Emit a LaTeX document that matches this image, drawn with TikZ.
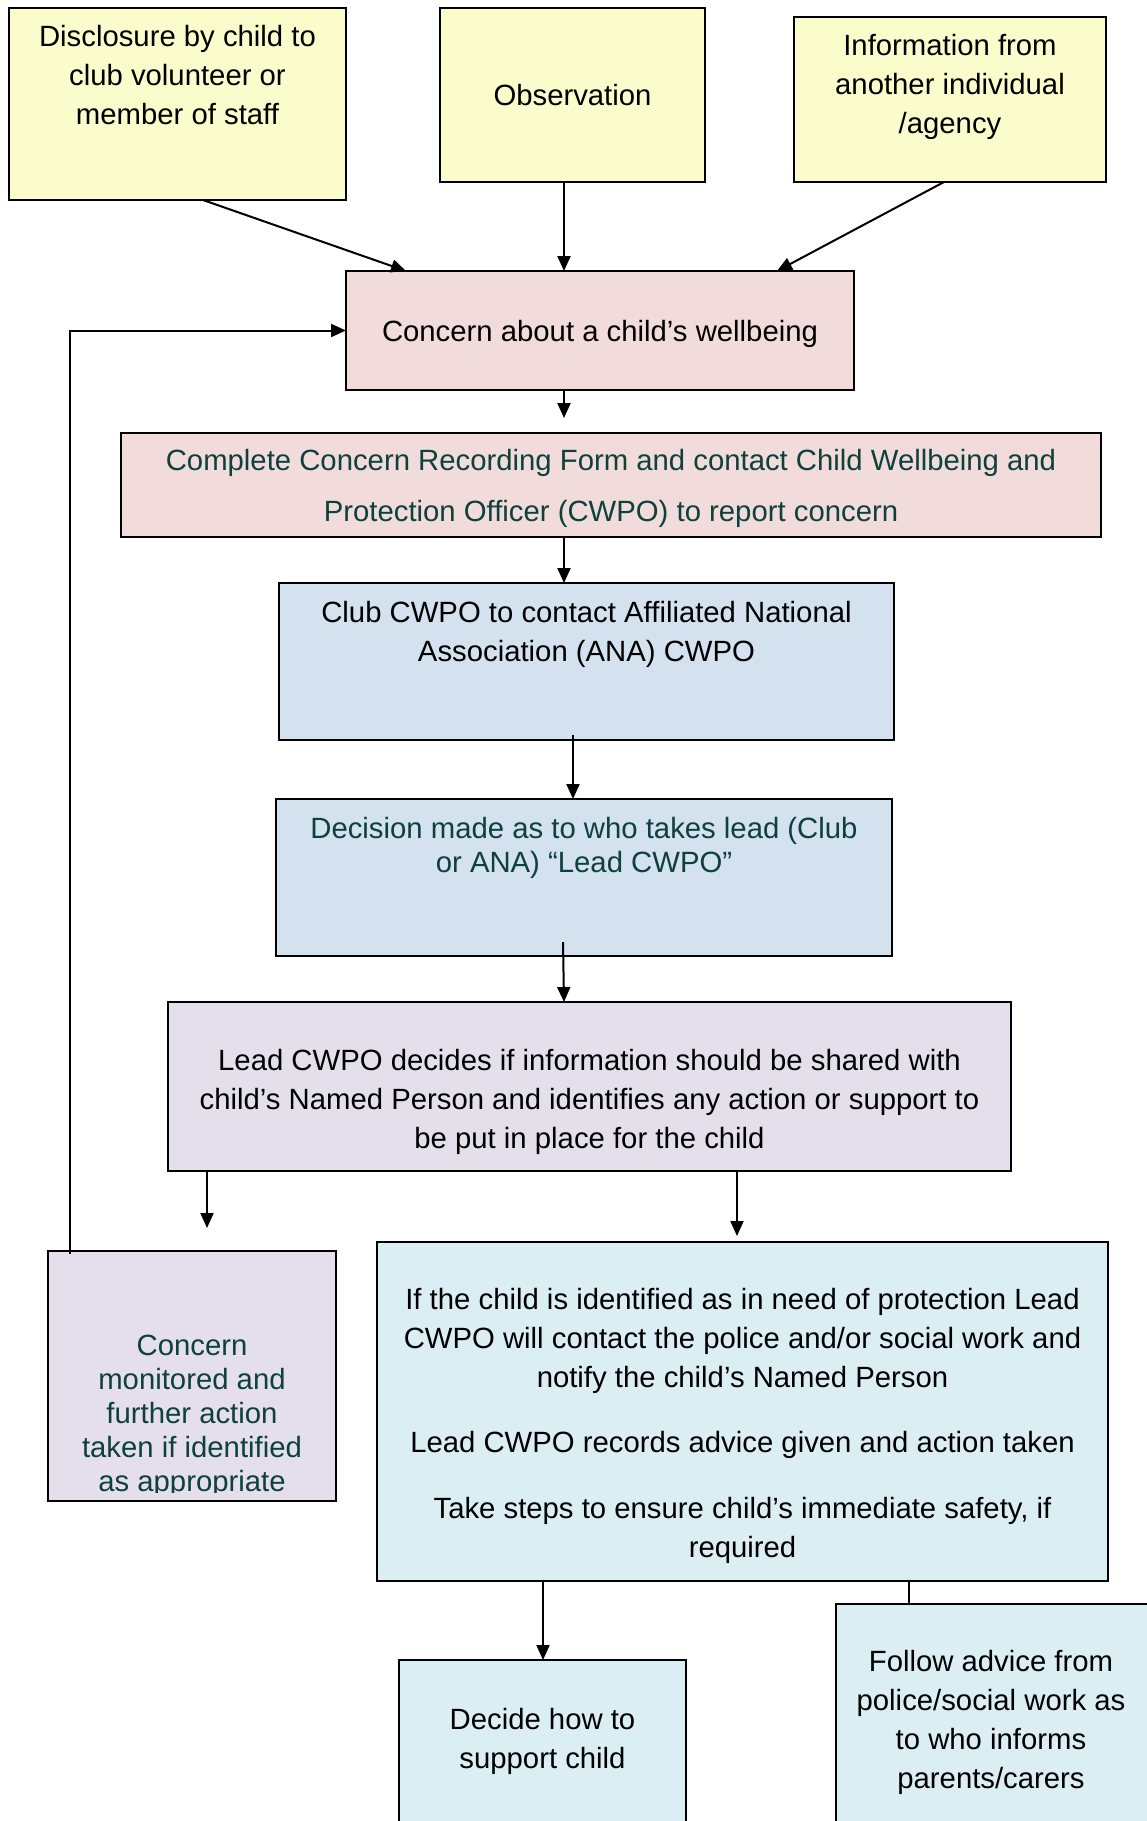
\documentclass[tikz,border=0pt]{standalone}
\usepackage{fontspec}
\setmainfont{Liberation Sans}
\usetikzlibrary{arrows.meta}
\definecolor{boxyellow}{HTML}{FAFDCB}
\definecolor{boxpink}{HTML}{F2DCDB}
\definecolor{boxblue}{HTML}{D3E2EE}
\definecolor{boxlilac}{HTML}{E5DFEC}
\definecolor{boxcyan}{HTML}{DBEEF3}
\definecolor{tealtext}{HTML}{0E403C}
\tikzset{
  box/.style={draw=black, line width=2.3pt, inner sep=0pt, outer sep=0pt, anchor=north west},
  txt/.style={font=\fontsize{29.3}{39}\selectfont, align=center, inner sep=0pt, anchor=north},
  arr/.style={line width=2pt, -{Triangle[length=15pt,width=13pt]}},
}
\begin{document}
\begin{tikzpicture}[x=1pt, y=-1pt]
    \clip (0,0) rectangle (1147,1821);
    % boxes
    \node[box, fill=boxyellow, minimum width=337pt, minimum height=192pt] (disclosure) at (9,8) {};
    \node[box, fill=boxyellow, minimum width=265pt, minimum height=174pt] (observation) at (440,8) {};
    \node[box, fill=boxyellow, minimum width=312pt, minimum height=165pt] (information) at (794,17) {};
    \node[box, fill=boxpink, minimum width=508pt, minimum height=119pt] (concern) at (346,271) {};
    \node[box, fill=boxpink, minimum width=980pt, minimum height=104pt] (complete) at (121,433) {};
    \node[box, fill=boxblue, minimum width=615pt, minimum height=157pt] (club) at (279,583) {};
    \node[box, fill=boxblue, minimum width=616pt, minimum height=157pt] (decision) at (276,799) {};
    \node[box, fill=boxlilac, minimum width=843pt, minimum height=169pt] (lead) at (168,1002) {};
    \node[box, fill=boxlilac, minimum width=288pt, minimum height=250pt] (monitor) at (48,1251) {};
    \node[box, fill=boxcyan, minimum width=731pt, minimum height=339pt] (protect) at (377,1242) {};
    \node[box, fill=boxcyan, minimum width=287pt, minimum height=200pt] (decide) at (399,1660) {};
    \node[box, fill=boxcyan, minimum width=330pt, minimum height=240pt] (follow) at (836,1604) {};
    % texts
    \node[txt] (disclosure-t) at (177.5,25) {Disclosure by child to\\club volunteer or\\member of staff};
    \node[txt] (observation-t) at (572.5,84) {Observation};
    \node[txt] (information-t) at (950,34) {Information from\\another individual\\/agency};
    \node[txt] (concern-t) at (600,320) {Concern about a child’s wellbeing};
    \node[txt, text=tealtext, font=\fontsize{29.3}{51}\selectfont] (complete-t) at (611,449)
        {Complete Concern Recording Form and contact Child Wellbeing and\\Protection Officer (CWPO) to report concern};
    \node[txt] (club-t) at (586.5,601) {Club CWPO to contact Affiliated National\\Association (ANA) CWPO};
    \node[txt, text=tealtext, font=\fontsize{29.3}{34}\selectfont] (decision-t) at (584,817)
        {Decision made as to who takes lead (Club\\or ANA) “Lead CWPO”};
    \node[txt] (lead-t) at (589.5,1049) {Lead CWPO decides if information should be shared with\\child’s Named Person and identifies any action or support to\\be put in place for the child};
    \begin{scope}
        \clip (48,1251) rectangle (336,1492);
        \node[txt, text=tealtext, font=\fontsize{29.3}{34}\selectfont] (monitor-t) at (192,1335)
            {Concern\\monitored and\\further action\\taken if identified\\as appropriate};
    \end{scope}
    \node[txt] (protect-t) at (742.5,1288) {If the child is identified as in need of protection Lead\\CWPO will contact the police and/or social work and\\notify the child’s Named Person\\[26pt]Lead CWPO records advice given and action taken\\[27pt]Take steps to ensure child’s immediate safety, if\\required};
    \node[txt] (decide-t) at (542.5,1708) {Decide how to\\support child};
    \node[txt] (follow-t) at (991,1650) {Follow advice from\\police/social work as\\to who informs\\parents/carers};
    % connectors
    \draw[arr] ([xshift=25.5pt]disclosure.south) -- ([xshift=-194pt]concern.north);
    \draw[arr] ([xshift=-8.5pt]observation.south) -- ([xshift=-36pt]concern.north);
    \draw[arr] ([xshift=-6pt]information.south) -- ([xshift=177pt]concern.north);
    \draw[arr] ([xshift=-36pt]concern.south) -- ([xshift=-47pt,yshift=15pt]complete.north);
    \draw[arr] ([xshift=-47pt]complete.south) -- ([xshift=-22.5pt]club.north);
    \draw[arr] ([xshift=-13.5pt,yshift=5pt]club.south) -- ([xshift=-11pt]decision.north);
    \draw[arr] ([xshift=-21pt,yshift=14pt]decision.south) -- ([xshift=-25.5pt]lead.north);
    \draw[arr] ([xshift=39pt]lead.south west) -- ([xshift=15pt,yshift=23pt]monitor.north);
    \draw[arr] ([xshift=147.5pt]lead.south) -- ([xshift=-5.5pt,yshift=6pt]protect.north);
    \draw[arr] ([xshift=-199.5pt]protect.south) -- ([xshift=0.5pt]decide.north);
    \draw[line width=2pt] ([xshift=166.5pt]protect.south) -- ([xshift=73pt]follow.north west);
    \draw[arr] ([xshift=21.5pt,yshift=-3pt]monitor.north west) |- (concern.west);
\end{tikzpicture}
\end{document}
